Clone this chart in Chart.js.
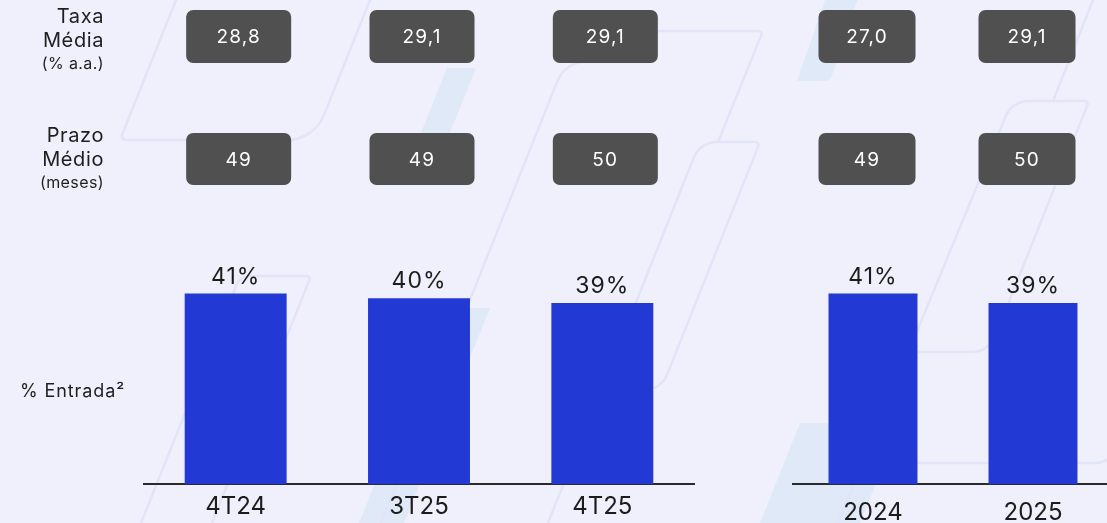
<!DOCTYPE html>
<html lang="pt-BR">
<head>
<meta charset="utf-8">
<script src="https://cdn.jsdelivr.net/npm/chart.js@4.4.1/dist/chart.umd.min.js"></script>
<style>
  html, body { margin: 0; padding: 0; width: 1107px; height: 523px; overflow: hidden; background: #eff0fb; font-family: Inter, "Noto Sans", sans-serif; color: #1e1e1e; }
  #bg { position: absolute; left: 0; top: 0; }
  .chart { position: absolute; top: 0; height: 541px; }
  #quarters { left: 0; width: 700px; }
  #years { left: 700px; width: 413px; }
  .rowlabel { position: absolute; left: 0; width: 104px; text-align: right; font-size: 20px; line-height: 24px; letter-spacing: 0.6px; }
  .rowlabel small { display: block; font-size: 16px; line-height: 22px; letter-spacing: 0.4px; }
  #entrada { position: absolute; left: 20px; top: 380px; font-size: 18px; line-height: 22px; letter-spacing: 0.9px; white-space: nowrap; }
</style>
</head>
<body>
<canvas id="bg" width="1107" height="523"></canvas>
<div class="rowlabel" style="top:4px">Taxa<br>Média<small>(% a.a.)</small></div>
<div class="rowlabel" style="top:123px">Prazo<br>Médio<small>(meses)</small></div>
<div id="entrada">% Entrada²</div>
<div class="chart" id="quarters"><canvas id="quarterChart"></canvas></div>
<div class="chart" id="years"><canvas id="yearChart"></canvas></div>
<script>
// quarterly block
const quarterLabels = ['4T24', '3T25', '4T25'];
const quarterEntrada = [41, 40, 39];
const quarterTaxa = [28.8, 29.1, 29.1];
const quarterPrazo = [49, 49, 50];

// yearly block
const yearLabels = ['2024', '2025'];
const yearEntrada = [41, 39];
const yearTaxa = [27.0, 29.1];
const yearPrazo = [49, 50];

const fmtRate = v => v.toFixed(1).replace('.', ',');

// faint background ornaments
function trace(ctx, pts) {
  ctx.beginPath();
  ctx.moveTo(pts[0][0], pts[0][1]);
  for (let i = 1; i < pts.length - 1; i++) {
    ctx.arcTo(pts[i][0], pts[i][1], pts[i + 1][0], pts[i + 1][1], pts[i][2] || 0);
  }
  const last = pts[pts.length - 1];
  ctx.lineTo(last[0], last[1]);
}

(function drawBackground() {
  const ctx = document.getElementById('bg').getContext('2d');
  ctx.fillStyle = '#dfe9f8';
  [
    [[827, -5], [859, -5], [830, 81, 6], [797, 81]],
    [[447, 68, 8], [476, 68], [431, 180], [402, 180]],
    [[445, 308], [490, 308], [404, 523], [359, 523]],
    [[800, 423, 15], [900, 423], [860, 523], [760, 523]]
  ].forEach(p => { trace(ctx, p); ctx.closePath(); ctx.fill(); });

  ctx.strokeStyle = '#e2e4f8';
  ctx.lineWidth = 2.5;
  ctx.lineJoin = 'round';
  [
    [[178, -5], [120, 140, 4], [314, 140, 40], [372, -5]],
    [[650, 62], [565, 62, 30], [370, 550]],
    [[600, 31], [763, 31, 3], [718, 142]],
    [[548, 523], [700, 142, 25], [760, 142, 3], [661, 390, 25], [560, 390]],
    [[838, 523], [1012, 101, 25], [1089, 101, 3], [989, 352, 25], [880, 352]],
    [[1095, -5], [1053, 101]],
    [[880, 463], [1112, 463, 25], [1160, 343]],
    [[141, 523], [240, 276, 15], [311, 276, 3], [212, 523]]
  ].forEach(p => { trace(ctx, p); ctx.stroke(); });
})();

const valueLabels = {
  id: 'valueLabels',
  afterDatasetsDraw(chart) {
    const ctx = chart.ctx;
    const values = chart.data.datasets[0].data;
    ctx.save();
    ctx.font = '23px Inter';
    ctx.letterSpacing = '1px';
    ctx.fillStyle = '#1c1c1c';
    ctx.textAlign = 'center';
    ctx.textBaseline = 'alphabetic';
    chart.getDatasetMeta(0).data.forEach((bar, i) => {
      ctx.fillText(values[i] + '%', bar.x, bar.y - 10);
    });
    ctx.restore();
  }
};

// dark pills above each bar for rate and term
function infoBoxes(rows, width, dx) {
  return {
    id: 'infoBoxes',
    afterDraw(chart) {
      const ctx = chart.ctx;
      const x = chart.scales.x;
      ctx.save();
      rows.forEach(row => {
        row.values.forEach((v, i) => {
          const cx = x.getPixelForValue(i) + dx;
          ctx.fillStyle = '#505050';
          ctx.beginPath();
          ctx.roundRect(cx - width / 2, row.top, width, row.height, 7);
          ctx.fill();
          ctx.fillStyle = '#ffffff';
          ctx.font = '19px Inter';
          ctx.letterSpacing = '1.2px';
          ctx.textAlign = 'center';
          ctx.textBaseline = 'middle';
          ctx.fillText(v, cx, row.top + row.height / 2 + 1);
        });
      });
      ctx.restore();
    }
  };
}

function barChart(id, labels, values, pad, boxes) {
  return new Chart(document.getElementById(id), {
    type: 'bar',
    data: {
      labels: labels,
      datasets: [{
        data: values,
        backgroundColor: '#2339d3',
        borderWidth: 0,
        barPercentage: 0.556,
        categoryPercentage: 1
      }]
    },
    options: {
      responsive: true,
      maintainAspectRatio: false,
      animation: false,
      layout: { padding: { left: pad.left, right: pad.right, top: 205.3, bottom: pad.bottom } },
      plugins: {
        legend: { display: false },
        tooltip: { enabled: false }
      },
      scales: {
        x: {
          grid: { display: false, drawTicks: false },
          border: { color: '#2a2a2a', width: 2 },
          ticks: { color: '#1c1c1c', font: { family: 'Inter', size: 24 }, padding: pad.ticks }
        },
        y: { display: false, min: 0, max: 60 }
      }
    },
    plugins: [valueLabels, boxes]
  });
}

barChart('quarterChart', quarterLabels, quarterEntrada, { left: 144, right: 6, bottom: 12, ticks: 8 },
  infoBoxes([
    { top: 10, height: 53, values: quarterTaxa.map(fmtRate) },
    { top: 133, height: 52, values: quarterPrazo.map(String) }
  ], 105, 3));

barChart('yearChart', yearLabels, yearEntrada, { left: 93, right: 0, bottom: 0, ticks: 14 },
  infoBoxes([
    { top: 10, height: 53, values: yearTaxa.map(fmtRate) },
    { top: 133, height: 52, values: yearPrazo.map(String) }
  ], 97, -6));
</script>
</body>
</html>
